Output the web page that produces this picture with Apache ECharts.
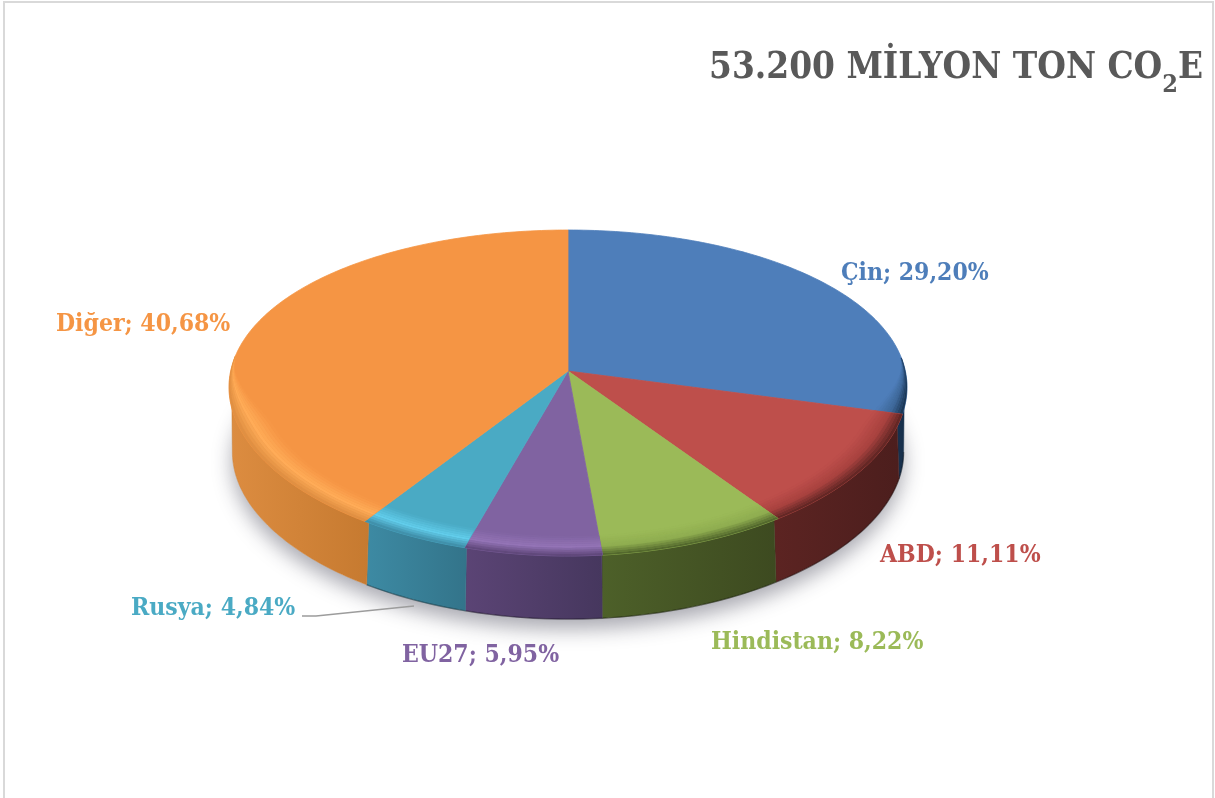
<!DOCTYPE html>
<html><head><meta charset="utf-8">
<style>html,body{margin:0;padding:0;background:#fff}#c{width:1215px;height:798px}</style>
<script src="https://cdn.jsdelivr.net/npm/echarts@6/dist/echarts.min.js"></script>
</head><body><div id="c"></div>
<script>
// Data
const categories = ['Çin','ABD','Hindistan','EU27','Rusya','Diğer'];
const shares = [29.20,11.11,8.22,5.95,4.84,40.68];
const titleText = '53.200 MİLYON TON CO';

// Style and layout
const topColors  = ['#4E7EBA','#BE4F4B','#9BBA58','#8063A1','#4AAAC4','#F59544'];
const wallColors = [['#18324F','#162E4A'],['#5C2422','#4C1E1D'],['#4D6029','#3D4A20'],['#5B4475','#46375E'],['#3D8AA3','#33748A'],['#DC8C40','#C67A30']];
const rimGlow    = ['#3E6899','#A8423F','#8FAD50','#9474B6','#62CDEB','#FFAC58'];
const labelAt    = [[841,274],[880,556],[711,643],[402,656],[131,609],[56,325]];
const leader     = [[302,616],[316,616],[414,606]];
const PIE = {cx:568, cy:371, Rx:337.3, A:160, kx:0.1, ky:0.135, drop:65, shrink:0.99, bevel:0.095, strips:10};
const FONT = '"DejaVu Serif Condensed"';

const total = shares.reduce((a,b)=>a+b,0);
const starts = []; let acc = 0;
shares.forEach(v=>{starts.push(acc/total*Math.PI*2); acc+=v;});
const sweep = i => shares[i]/total*Math.PI*2;

function pt(r,t,off,s){
  const u=r*Math.sin(t), v=r*Math.cos(t);
  return [PIE.cx+PIE.Rx*s*u/(1+PIE.kx*v), PIE.cy+off-PIE.A*s*v/(1+PIE.ky*v)];
}
const topPt=(r,t)=>pt(r,t,0,1);
const botPt=(r,t)=>pt(r,t,PIE.drop,PIE.shrink);
function range(a,b,step){const o=[];const n=Math.max(2,Math.ceil((b-a)/step));for(let i=0;i<=n;i++)o.push(a+(b-a)*i/n);return o;}
const STEP=Math.PI/180;
const hex=c=>[1,3,5].map(i=>parseInt(c.substr(i,2),16));
const mix=(a,b,t)=>{const x=hex(a),y=hex(b);return 'rgb('+x.map((v,i)=>Math.round(v+(y[i]-v)*t)).join(',')+')';};
const thetaR=Math.acos(-PIE.kx), thetaL=2*Math.PI-thetaR;
const bevelW=t=>{const x=Math.max(0,Math.min(1,(0.12-Math.cos(t))/0.5));return x*x*(3-2*x);};

function rimColor(i,f){ // f: 0 inner edge of the bevel, 1 outer edge
  const base=topColors[i], glow=rimGlow[i], wall=wallColors[i][0];
  const p=0.55;
  if(f<p) return mix(base,glow,f/p);
  return mix(glow,wall,(f-p)/(1-p));
}

const shadowSeries={type:'custom',coordinateSystem:'none',silent:true,z:1,data:[[0]],
  renderItem(){
    const pts=range(0,Math.PI*2,STEP).map(t=>botPt(1,t));
    return {type:'polygon',shape:{points:pts},style:{fill:'#ffffff',shadowBlur:20,shadowOffsetY:10,shadowOffsetX:0,shadowColor:'rgba(40,40,60,0.4)'}};
  }};

const wallSeries={type:'custom',coordinateSystem:'none',silent:true,z:2,
  data:shares.map((v,i)=>[v,i]),
  renderItem(p,api){
    const i=api.value(1), a=Math.max(starts[i],thetaR), b=Math.min(starts[i]+sweep(i),thetaL);
    if(b<=a) return {type:'group',children:[]};
    const ts=range(a,b,STEP);
    const upper=ts.map(t=>topPt(1-PIE.bevel*bevelW(t)*0.2,t)), lower=ts.map(t=>botPt(1,t));
    const xs=upper.concat(lower).map(q=>q[0]);
    const x0=Math.min(...xs),x1=Math.max(...xs);
    const kids=[{type:'polygon',shape:{points:upper.concat(lower.slice().reverse())},
       style:{fill:new echarts.graphic.LinearGradient(x0,0,x1,0,[{offset:0,color:wallColors[i][0]},{offset:1,color:wallColors[i][1]}],true),
              stroke:wallColors[i][1],lineWidth:0.5}}];
    if(i<categories.length-1) kids.push({type:'polyline',shape:{points:lower},style:{fill:null,stroke:'rgba(0,0,0,0.3)',lineWidth:1.4}});
    return {type:'group',children:kids};
  }};

const faceSeries={type:'custom',coordinateSystem:'none',silent:true,z:3,
  data:shares.map((v,i)=>[v,i]),
  renderItem(p,api){
    const i=api.value(1), a=starts[i], b=a+sweep(i);
    const ts=range(a,b,STEP);
    const kids=[{type:'polygon',shape:{points:[topPt(0,0)].concat(ts.map(t=>topPt(1,t)))},
      style:{fill:topColors[i],stroke:topColors[i],lineWidth:0.8}}];
    const n=PIE.strips;
    const bts=ts.filter(t=>bevelW(t)>0.005);
    if(bts.length>1) for(let s=0;s<n;s++){
      const outer=bts.map(t=>topPt(1-PIE.bevel*bevelW(t)*(1-(s+1)/n),t));
      const inner=bts.map(t=>topPt(1-PIE.bevel*bevelW(t)*(1-s/n),t));
      const col=rimColor(i,(s+0.5)/n);
      kids.push({type:'polygon',shape:{points:outer.concat(inner.reverse())},style:{fill:col,stroke:col,lineWidth:0.2}});
    }
    return {type:'group',children:kids};
  }};

const labelSeries={type:'custom',coordinateSystem:'none',silent:true,z:4,
  data:shares.map((v,i)=>[v,i]),
  renderItem(p,api){
    const i=api.value(1);
    return {type:'text',style:{text:categories[i]+'; '+shares[i].toFixed(2).replace('.',',')+'%',
      x:labelAt[i][0],y:labelAt[i][1],fill:topColors[i],font:'bold 24.5px '+FONT,textAlign:'left',textVerticalAlign:'middle'}};
  }};

const chart=echarts.init(document.getElementById('c'),null,{renderer:'canvas'});
chart.setOption({
  animation:false,
  backgroundColor:'#ffffff',
  title:{text:'{a|'+titleText+'}{b|2}{a|E}',right:7,top:34,
    textStyle:{rich:{
      a:{fontFamily:FONT,fontWeight:'bold',fontSize:36.6,color:'#595959'},
      b:{fontFamily:FONT,fontWeight:'bold',fontSize:25,color:'#595959',padding:[34,0,0,0]}
    }}},
  graphic:[
    {type:'rect',silent:true,shape:{x:4,y:2,width:1209,height:800},style:{fill:null,stroke:'#D9D9D9',lineWidth:2}},
    {type:'polyline',silent:true,z:10,shape:{points:leader},style:{fill:null,stroke:'#9C9C9C',lineWidth:1.6}}
  ],
  series:[shadowSeries,wallSeries,faceSeries,labelSeries]
});
</script></body></html>
